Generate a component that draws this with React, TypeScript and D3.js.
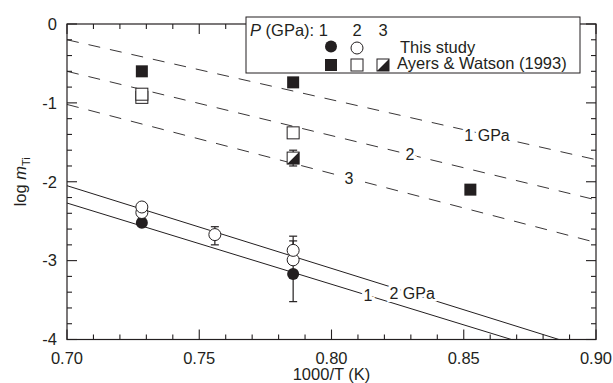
import React from 'react';
import * as d3 from 'd3';

// this study (filled = 1 GPa, open = 2 GPa)
const study1 = [
  { x: 0.7283, y: -2.52, lo: 0, hi: 0 },
  { x: 0.7855, y: -3.17, lo: 0.35, hi: 0.48 },
];
const study2 = [
  { x: 0.7283, y: -2.39, lo: 0, hi: 0 },
  { x: 0.7283, y: -2.32, lo: 0, hi: 0 },
  { x: 0.7559, y: -2.67, lo: 0.13, hi: 0.1 },
  { x: 0.7855, y: -2.99, lo: 0, hi: 0 },
  { x: 0.7855, y: -2.87, lo: 0, hi: 0.12 },
];
// Ayers & Watson (1993)
const aw1 = [
  { x: 0.7283, y: -0.6 },
  { x: 0.7855, y: -0.74 },
  { x: 0.8525, y: -2.1 },
];
const aw2 = [
  { x: 0.7283, y: -0.93 },
  { x: 0.7283, y: -0.89 },
  { x: 0.7855, y: -1.38 },
];
const aw3 = [{ x: 0.7855, y: -1.7, err: 0.1 }];

// fitted lines
const solid1 = [[0.7, -2.27], [0.868, -4.0]];
const solid2 = [[0.7, -2.05], [0.886, -4.0]];
const dashed1 = [[0.7, -0.2], [0.9, -1.72]];
const dashed2 = [[0.7, -0.6], [0.9, -2.23]];
const dashed3 = [[0.7, -1.02], [0.9, -2.77]];

const xTicks = [0.7, 0.75, 0.8, 0.85, 0.9];
const yTicks = [0, -1, -2, -3, -4];

const W = 613, H = 383;
const left = 67, right = 596, top = 24, bottom = 339.5;
const ink = '#231f20';
const font = 'Liberation Sans, Arial, Helvetica, sans-serif';

export default function App() {
  const x = d3.scaleLinear().domain([0.7, 0.9]).range([left, right]);
  const y = d3.scaleLinear().domain([-4, 0]).range([bottom, top]);
  const line = d3.line<number[]>().x(d => x(d[0])).y(d => y(d[1]));

  const xMinor = d3.range(0, 21).map(i => 0.7 + i * 0.01);
  const yMinor = d3.range(0, 21).map(i => -4 + i * 0.2);
  const isMajor = (v: number, step: number) => Math.abs(v / step - Math.round(v / step)) < 1e-6;

  const onLine = (pts: number[][], xv: number) => {
    const [a, b] = pts;
    return a[1] + ((xv - a[0]) / (b[0] - a[0])) * (b[1] - a[1]);
  };

  // line labels with a white halo so the line breaks around them
  const label = (text: string, pts: number[][], xv: number, key: string) => (
    <text key={key} x={x(xv)} y={y(onLine(pts, xv))} dy="0.35em" textAnchor="middle"
      fontSize={16} fill={ink} stroke="#fff" strokeWidth={6} paintOrder="stroke"
      fontFamily={font}>{text}</text>
  );

  const sq = 12, r = 6;
  const halfSquare = (cx: number, cy: number, key: string) => (
    <g key={key}>
      <rect x={cx - sq / 2} y={cy - sq / 2} width={sq} height={sq} fill="#fff" stroke={ink} strokeWidth={1} />
      <path d={`M${cx - sq / 2},${cy + sq / 2}L${cx + sq / 2},${cy - sq / 2}L${cx + sq / 2},${cy + sq / 2}Z`} fill={ink} />
    </g>
  );
  const errBar = (px: number, y1: number, y2: number, key: string) => (
    <g key={key} stroke={ink} strokeWidth={1.2}>
      <line x1={px} x2={px} y1={y(y1)} y2={y(y2)} />
      <line x1={px - 4} x2={px + 4} y1={y(y1)} y2={y(y1)} />
      <line x1={px - 4} x2={px + 4} y1={y(y2)} y2={y(y2)} />
    </g>
  );

  return (
    <svg width={W} height={H} style={{ position: 'absolute', left: 0, top: 0, background: '#fff' }}>
      <defs>
        <clipPath id="plot"><rect x={left} y={top} width={right - left} height={bottom - top} /></clipPath>
      </defs>

      {/* fitted lines */}
      <g clipPath="url(#plot)" fill="none" stroke={ink} strokeWidth={1}>
        <path d={line(solid1) || ''} />
        <path d={line(solid2) || ''} />
        {[dashed1, dashed2, dashed3].map((d, i) => (
          <path key={i} d={line(d) || ''} strokeDasharray="12,10" strokeWidth={0.9} />
        ))}
      </g>
      {label('1 GPa', dashed1, 0.8588, 'l1')}
      {label('2', dashed2, 0.8297, 'l2')}
      {label('3', dashed3, 0.8066, 'l3')}
      {label('2 GPa', solid2, 0.8305, 's2')}
      {label('1', solid1, 0.8138, 's1')}

      {/* frame and ticks */}
      <rect x={left} y={top} width={right - left} height={bottom - top} fill="none" stroke={ink} strokeWidth={1.2} />
      <g stroke={ink} strokeWidth={1.1}>
        {xMinor.map((v, i) => {
          const len = isMajor(v, 0.05) ? 10 : 5;
          return (
            <g key={'xt' + i}>
              <line x1={x(v)} x2={x(v)} y1={bottom} y2={bottom - len} />
              <line x1={x(v)} x2={x(v)} y1={top} y2={top + len} />
            </g>
          );
        })}
        {yMinor.map((v, i) => {
          const len = isMajor(v, 1) ? 10 : 5;
          return (
            <g key={'yt' + i}>
              <line x1={left} x2={left + len} y1={y(v)} y2={y(v)} />
              <line x1={right} x2={right - len} y1={y(v)} y2={y(v)} />
            </g>
          );
        })}
      </g>
      <g fontFamily={font} fontSize={16.5} fill={ink}>
        {xTicks.map(v => (
          <text key={'xl' + v} x={x(v)} y={bottom + 24} textAnchor="middle">{v.toFixed(2)}</text>
        ))}
        {yTicks.map(v => (
          <text key={'yl' + v} x={left - 10} y={y(v)} dy="0.35em" textAnchor="end">{v}</text>
        ))}
        <text x={(left + right) / 2} y={380} textAnchor="middle">1000/T (K)</text>
        <text transform={`translate(26,${(top + bottom) / 2}) rotate(-90)`} textAnchor="middle">
          log <tspan fontStyle="italic">m</tspan><tspan fontSize={11} dy={4}>Ti</tspan>
        </text>
      </g>

      {/* error bars */}
      {aw3.map((d, i) => errBar(x(d.x), d.y - d.err, d.y + d.err, 'awe' + i))}
      {study1.filter(d => d.lo || d.hi).map((d, i) => errBar(x(d.x), d.y - d.lo, d.y + d.hi, 'e1' + i))}
      {study2.filter(d => d.lo || d.hi).map((d, i) => errBar(x(d.x), d.y - d.lo, d.y + d.hi, 'e2' + i))}

      {/* markers */}
      {aw1.map((d, i) => (
        <rect key={'a1' + i} x={x(d.x) - sq / 2} y={y(d.y) - sq / 2} width={sq} height={sq} fill={ink} />
      ))}
      {aw2.map((d, i) => (
        <rect key={'a2' + i} x={x(d.x) - sq / 2} y={y(d.y) - sq / 2} width={sq} height={sq} fill="#fff" stroke={ink} strokeWidth={1} />
      ))}
      {aw3.map((d, i) => halfSquare(x(d.x), y(d.y), 'a3' + i))}
      {study1.map((d, i) => (
        <circle key={'c1' + i} cx={x(d.x)} cy={y(d.y)} r={r} fill={ink} />
      ))}
      {study2.map((d, i) => (
        <circle key={'c2' + i} cx={x(d.x)} cy={y(d.y)} r={r} fill="#fff" stroke={ink} strokeWidth={1} />
      ))}

      {/* legend */}
      <g fontFamily={font} fontSize={16.5} fill={ink}>
        <rect x={246} y={17} width={334} height={56} fill="#fff" stroke={ink} strokeWidth={1} />
        <text x={250} y={36}><tspan fontStyle="italic">P</tspan> (GPa): 1</text>
        <text x={357} y={36} textAnchor="middle">2</text>
        <text x={383} y={36} textAnchor="middle">3</text>
        <circle cx={331} cy={46.5} r={r} fill={ink} />
        <circle cx={357} cy={48} r={r} fill="#fff" stroke={ink} strokeWidth={1} />
        <text x={400} y={52.5}>This study</text>
        <rect x={331 - sq / 2} y={65 - sq / 2} width={sq} height={sq} fill={ink} />
        <rect x={357 - sq / 2} y={65 - sq / 2} width={sq} height={sq} fill="#fff" stroke={ink} strokeWidth={1} />
        {halfSquare(383, 65, 'lg3')}
        <text x={397} y={69}>Ayers &amp; Watson (1993)</text>
      </g>
    </svg>
  );
}
